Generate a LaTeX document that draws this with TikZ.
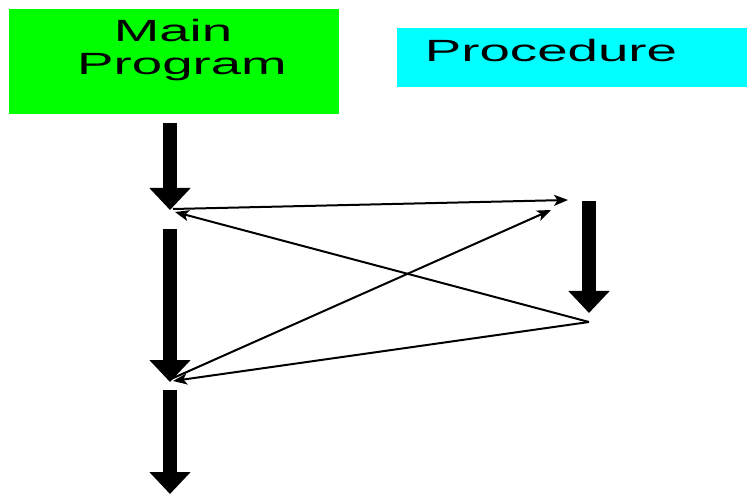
\documentclass[tikz,border=0pt]{standalone}
\usepackage{fontspec}
\setmainfont{Liberation Sans}
\newfontfamily\widefont[FakeStretch=1.78]{Liberation Sans}
\usetikzlibrary{arrows.meta}
\definecolor{boxgreen}{RGB}{0,255,0}
\definecolor{boxcyan}{RGB}{0,255,255}
\begin{document}
\begin{tikzpicture}[x=1pt,y=-1pt,
  boxfill/.style={draw=none,inner sep=0pt,anchor=north west},
  label/.style={anchor=base,inner sep=0pt,font=\widefont\fontsize{30.7pt}{33pt}\selectfont},
  flow/.style={line width=14pt,-{Triangle[width=40pt,length=22pt]}},
  call/.style={line width=2pt,-{Stealth[length=14pt,width=11pt,inset=3.5pt]}}]
\useasboundingbox (0,0) rectangle (747,494);
% boxes
\node[boxfill,fill=boxgreen,minimum width=330pt,minimum height=105pt] (main) at (9,9) {};
\node[boxfill,fill=boxcyan,minimum width=350pt,minimum height=59pt] (proc) at (397,28) {};
\node[label] (mainA) at (173,42) {Main};
\node[label] (mainB) at (182,75) {Program};
\node[label] (procT) at (551,62) {Procedure};
% points
\coordinate (m1s) at (170,123);
\coordinate (m1e) at (170,210);
\coordinate (m2s) at (170,229);
\coordinate (m2e) at (170,382);
\coordinate (m3s) at (170,390);
\coordinate (m3e) at (170,494);
\coordinate (p1s) at (589,201);
\coordinate (p1e) at (589,313);
\coordinate (callA) at (173,209);
\coordinate (callAin) at (175,212);
\coordinate (entA) at (568,200);
\coordinate (entB) at (551,210);
\coordinate (ret) at (589,322);
\coordinate (callB) at (171,379);
\coordinate (retB) at (173,381);
% main program flow
\draw[flow] (m1s) -- (m1e);
\draw[flow] (m2s) -- (m2e);
\draw[flow] (m3s) -- (m3e);
% procedure flow
\draw[flow] (p1s) -- (p1e);
% calls and returns
\draw[call] (callA) -- (entA);
\draw[call] (ret) -- (callAin);
\draw[call] (callB) -- (entB);
\draw[call] (ret) -- (retB);
\end{tikzpicture}
\end{document}
